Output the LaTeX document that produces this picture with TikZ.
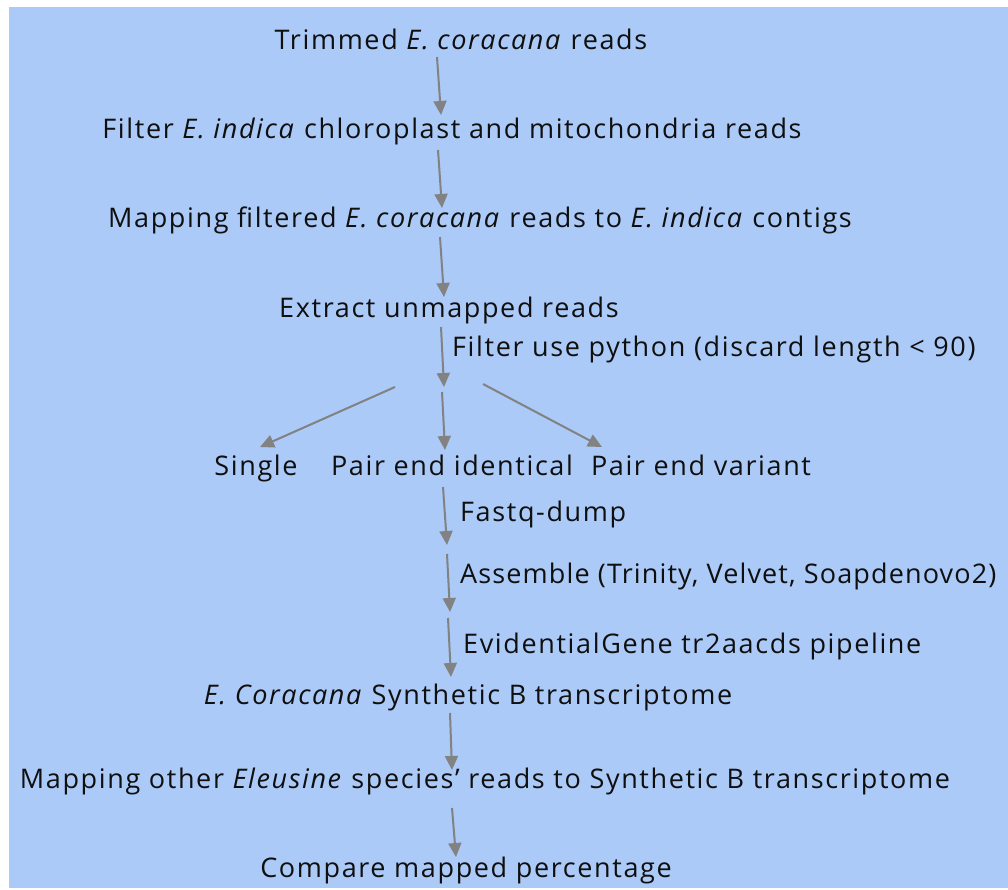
\documentclass[tikz,border=0pt]{standalone}
\usepackage{fontspec}
\setmainfont{Open Sans}[LetterSpace=6]
\usetikzlibrary{arrows.meta,calc}
\definecolor{panel}{RGB}{171,202,247}
\definecolor{arrowgray}{RGB}{130,130,130}
\definecolor{ink}{RGB}{15,15,15}
\begin{document}
\begin{tikzpicture}[x=1pt,y=-1pt,
  lbl/.style={inner sep=0pt,text=ink,font=\fontsize{27}{31}\selectfont},
  stage/.style={lbl,anchor=base},
  note/.style={lbl,anchor=base west},
  tight/.style={font=\fontsize{27}{31}\selectfont\addfontfeatures{LetterSpace=4.2}},
  arr/.style={draw=arrowgray,line width=2pt,
    -{Triangle[width=13pt,length=14pt]},fill=arrowgray}]
% page and panel
\useasboundingbox (0,0) rectangle (1008,890);
\fill[white] (0,0) rectangle (1008,890);
\fill[panel] (9,7) rectangle (1008,888);

% pipeline stages
\node[stage] (trim) at (461,50) {Trimmed \textit{E. coracana} reads};
\node[stage] (filt) at (452,139) {Filter \textit{E. indica} chloroplast and mitochondria reads};
\node[stage] (map1) at (480,228) {Mapping filtered \textit{E. coracana} reads to \textit{E. indica} contigs};
\node[stage] (extr) at (449,317) {Extract unmapped reads};
\node[note]  (py)   at (452,356) {Filter use python (discard length < 90)};
\node[stage] (sing) at (256,475) {Single};
\node[stage] (pid)  at (452,475) {Pair end identical};
\node[stage] (pvar) at (701,475) {Pair end variant};
\node[note]  (fq)   at (460,521) {Fastq-dump};
\node[note,tight] (asm) at (460,583) {Assemble (Trinity, Velvet, Soapdenovo2)};
\node[note]  (evg)  at (463,653) {EvidentialGene tr2aacds pipeline};
\node[stage] (synb) at (468,704) {\textit{E. Coracana} Synthetic B transcriptome};
\node[stage] (map2) at (485,788) {Mapping other \textit{Eleusine} species’ reads to Synthetic B transcriptome};
\node[stage] (cmp)  at (466,877) {Compare mapped percentage};

% connectors
\draw[arr] ($(trim.base)+(-24,7)$) -- ($(filt.base)+(-11,-24)$);
\draw[arr] ($(filt.base)+(-14,11)$) -- ($(map1.base)+(-38,-20)$);
\draw[arr] ($(map1.base)+(-40,9)$) -- ($(extr.base)+(-5,-20)$);
\draw[arr] ($(extr.base)+(-8,10)$) -- ($(py.base west)+(-8,31)$);
\draw[arr] ($(pid.base)+(-57,-88)$) -- ($(sing.base)+(4,-28)$);
\draw[arr] ($(pid.base)+(-10,-83)$) -- ($(pid.base)+(-7,-25)$);
\draw[arr] ($(pid.base)+(31,-91)$) -- ($(pvar.base)+(-99,-28)$);
\draw[arr] ($(fq.base west)+(-17,-34)$) -- ($(fq.base west)+(-13,24)$);
\draw[arr] ($(asm.base west)+(-13,-29)$) -- ($(asm.base west)+(-10,29)$);
\draw[arr] ($(evg.base west)+(-15,-35)$) -- ($(synb.base)+(-17,-27)$);
\draw[arr] ($(synb.base)+(-18,9)$) -- ($(map2.base)+(-33,-18)$);
\draw[arr] ($(map2.base)+(-33,20)$) -- ($(cmp.base)+(-10,-20)$);
\end{tikzpicture}
\end{document}
